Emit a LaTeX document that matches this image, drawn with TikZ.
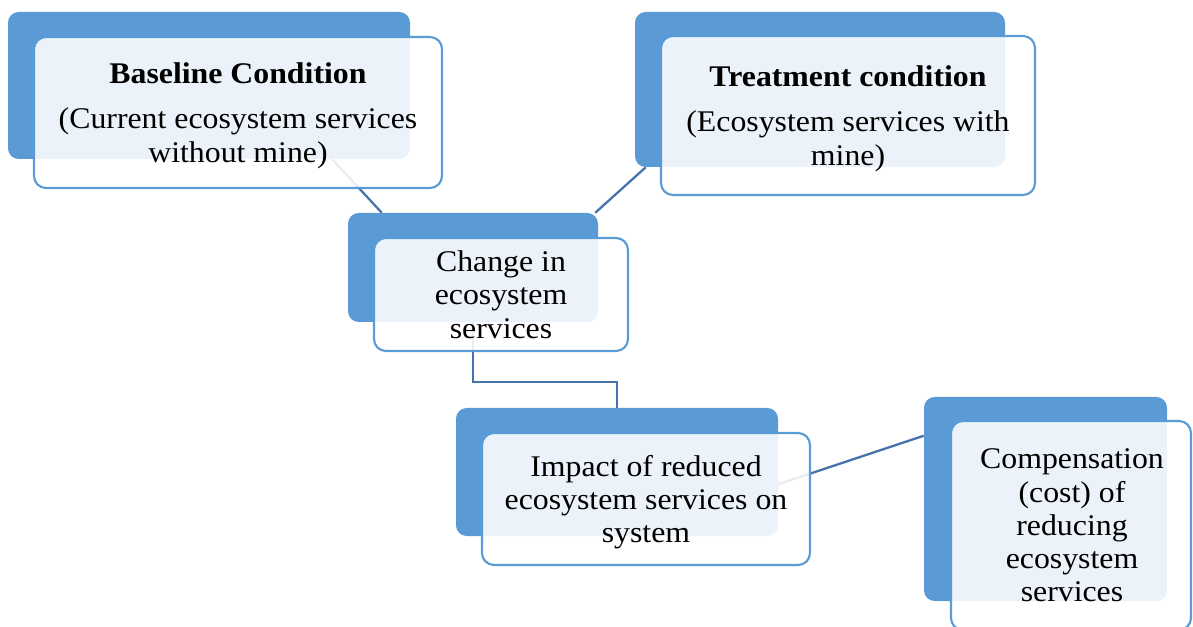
\documentclass[tikz,border=0pt]{standalone}
\usepackage{fontspec}
\setmainfont{Liberation Serif}
\usetikzlibrary{fit,calc}
\definecolor{backblue}{RGB}{91,155,213}
\definecolor{linkblue}{RGB}{68,114,170}
\pgfdeclarelayer{links}
\pgfsetlayers{links,main}
% centred multi-line text, slightly widened
\newcommand\boxlines[1]{\scalebox{1.06}[1]{\begin{tabular}{@{}c@{}}#1\end{tabular}}}
\begin{document}
\begin{tikzpicture}[x=0.75pt,y=-0.75pt,
  backbox/.style={fill=backblue, draw=none, rounded corners=8pt, inner sep=0pt},
  frontbox/.style={fill=white, fill opacity=0.88, draw=backblue, line width=1.6pt, rounded corners=9pt, inner sep=0pt},
  boxtext/.style={inner sep=0pt, yshift=-2.8pt, font=\fontsize{22.5}{24.9}\selectfont, text=black},
  link/.style={draw=linkblue, line width=1.7pt}]
\clip (0,0) rectangle (1193,627);

% Baseline condition
\node[backbox, fit={(8,12) (410,159)}] (baseb) {};
\node[frontbox, fit={(34,37) (442,188)}] (basef) {};
\node[boxtext] (baset) at (basef.center)
  {\boxlines{\textbf{Baseline Condition}\\[9pt](Current ecosystem services\\without mine)}};

% Treatment condition
\node[backbox, fit={(635,12) (1005,167)}] (treatb) {};
\node[frontbox, fit={(661,36) (1035,195)}] (treatf) {};
\node[boxtext] (treatt) at (treatf.center)
  {\boxlines{\textbf{Treatment condition}\\[9pt](Ecosystem services with\\mine)}};

% Change in ecosystem services
\node[backbox, fit={(348,213) (598,322)}] (chb) {};
\node[frontbox, fit={(374,238) (628,351)}] (chf) {};
\node[boxtext] (cht) at (chf.center)
  {\boxlines{Change in\\ecosystem\\services}};

% Impact
\node[backbox, fit={(456,408) (778,536)}] (impb) {};
\node[frontbox, fit={(482,433) (810,565)}] (impf) {};
\node[boxtext] (impt) at (impf.center)
  {\boxlines{Impact of reduced\\ecosystem services on\\system}};

% Compensation
\node[backbox, fit={(924,397) (1167,601)}] (compb) {};
\node[frontbox, fit={(951,421) (1191,630)}] (compf) {};
\node[boxtext] (compt) at (1072,525)
  {\boxlines{Compensation\\(cost) of\\reducing\\ecosystem\\services}};

% connectors, behind the boxes
\begin{pgfonlayer}{links}
\draw[link] ($(baseb.south west)!0.806!(baseb.south east)$) -- ($(chb.north west)+(34,0)$);
\draw[link] ($(treatb.south west)+(11,0)$) -- ($(chb.north east)+(-3,0)$);
\draw[link] ($(chb.south west)+(125,0)$) -- ++(0,60) -| ($(impb.north west)+(161,0)$);
\draw[link] ($(impb.south east)+(0,-52)$) -- ($(compb.north west)+(0,39)$);
\end{pgfonlayer}
\end{tikzpicture}
\end{document}
